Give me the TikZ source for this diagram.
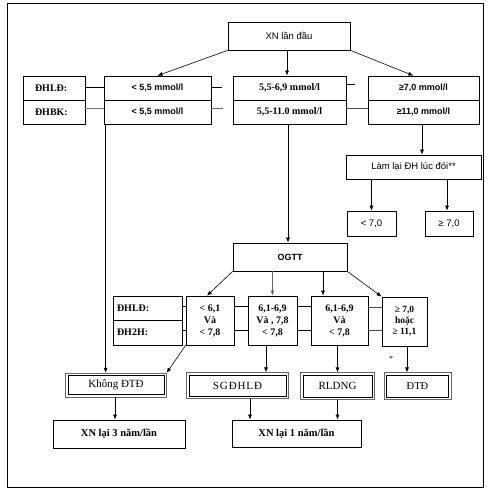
\documentclass[tikz,border=0pt]{standalone}
\usepackage{fontspec}
\setmainfont{Liberation Serif}
\setsansfont{Liberation Sans}
\usetikzlibrary{arrows.meta,calc}
\begin{document}
\begin{tikzpicture}[x=1pt,y=-1pt,
  bx/.style={draw,line width=0.7pt,inner sep=0pt,align=center},
  dbl/.style={draw,line width=0.9pt,inner sep=0pt,align=center,outer sep=2.6pt},
  outerline/.style={line width=0.7pt,black!60},
  arr/.style={-{Latex[length=5pt,width=4pt]},line width=0.6pt},
  ln/.style={line width=0.6pt},
  sansr/.style={font=\sffamily\fontsize{9.5}{11}\selectfont},
  sansb/.style={font=\sffamily\bfseries\fontsize{9}{11}\selectfont},
  serb/.style={font=\bfseries\fontsize{10}{12}\selectfont},
  serr/.style={font=\fontsize{11}{13}\selectfont},
  lab/.style={bx,serb,align=left,inner xsep=#1pt},
]
\useasboundingbox (0,0) rectangle (492,494);
\draw[line width=0.9pt] (7,3) rectangle (483,487);

% top
\node[bx,sansr,minimum width=122pt,minimum height=28pt] (xn) at (289,36) {XN lần đầu};

% row 1
\node[lab=12,text width=38pt,minimum height=24pt] (lA) at (54,88) {ĐHLĐ:};
\node[lab=12,text width=38pt,minimum height=24pt] (lB) at (54,112) {ĐHBK:};
\node[bx,sansb,minimum width=107pt,minimum height=24pt] (a1) at (157.5,88) {< 5,5 mmol/l};
\node[bx,sansb,minimum width=107pt,minimum height=24pt] (a2) at (157.5,112) {< 5,5 mmol/l};
\node[bx,serb,minimum width=113pt,minimum height=24pt] (b1) at (289.5,88) {5,5-6,9 mmol/l};
\node[bx,serb,minimum width=113pt,minimum height=24pt] (b2) at (289.5,112) {5,5-11.0 mmol/l};
\node[bx,sansb,minimum width=111pt,minimum height=24pt] (c1) at (423.5,88) {≥7,0 mmol/l};
\node[bx,sansb,minimum width=111pt,minimum height=24pt] (c2) at (423.5,112) {≥11,0 mmol/l};

\draw[ln] ([yshift=1pt]lA.east) -- ([yshift=1pt]lA.east -| a1.west);
\draw[ln,black!55] ([yshift=4pt]lB.east) -- ([yshift=4pt]lB.east -| a2.west);
\draw[ln] ([yshift=1pt]a1.east) -- ++(11,0) coordinate (sa1);
\draw[ln,black!60] ([yshift=4pt]a2.east) -- ++(12,0) coordinate (sa2);
\draw[ln] ([yshift=4pt]b1.east) -- ++(9,0) coordinate (sb1);
\draw[ln,black!70] ([yshift=4pt]b2.east) -- ([yshift=4pt]b2.east -| c2.west);

\draw[arr] (xn.south west) -- (a1.north);
\draw[arr] ([xshift=-2pt]xn.south) -- ([xshift=-2pt]xn.south |- b1.north);
\draw[arr] (xn.south east) -- ([xshift=-10pt]c1.north);

% right branch
\node[bx,sansr,minimum width=135pt,minimum height=24pt] (lam) at (413.5,167) {Làm lại ĐH lúc đói**};
\node[bx,sansr,minimum width=49pt,minimum height=25pt] (lt) at (371.5,223.5) {< 7,0};
\node[bx,sansr,minimum width=48pt,minimum height=25pt] (ge) at (449,223.5) {≥ 7,0};
\draw[arr] ([xshift=-1.5pt]c2.south) -- ([xshift=-1.5pt]c2.south |- lam.north);
\draw[arr] (lt.north |- lam.south) -- (lt.north);
\draw[arr] ([xshift=-2pt]ge.north |- lam.south) -- ([xshift=-2pt]ge.north);

% OGTT
\node[bx,sansb,minimum width=114pt,minimum height=28pt] (ogtt) at (290,257) {OGTT};
\draw[arr] ([xshift=-1.5pt]b2.south) -- ([xshift=-1.5pt]b2.south |- ogtt.north);

% row 2
\node[lab=4,text width=61pt,minimum height=24.5pt] (L2a) at (147.5,308.25) {ĐHLĐ:};
\node[lab=4,text width=61pt,minimum height=24.5pt] (L2b) at (147.5,332.75) {ĐH2H:};
\node[bx,serb,minimum width=48pt,minimum height=49pt] (d) at (210,320.5) {< 6,1\\Và\\< 7,8};
\node[bx,serb,minimum width=49pt,minimum height=49pt] (e) at (272.5,320.5) {6,1-6,9\\Và , 7,8\\< 7,8};
\node[bx,serb,minimum width=57pt,minimum height=49pt] (f) at (339.5,320.5) {6,1-6,9\\Và\\< 7,8};
\node[bx,font=\bfseries\fontsize{9.5}{11}\selectfont,minimum width=45pt,minimum height=49pt] (g) at (404.5,321.5) {≥ 7,0\\hoặc\\≥ 11,1};

\draw[ln] ([yshift=2pt]L2a.east) -- ([yshift=2pt]L2a.east -| d.west);
\draw[ln] ([yshift=2.75pt]L2b.east) -- ([yshift=2.75pt]L2b.east -| d.west);
\draw[ln] ([yshift=14.5pt]d.east) -- ([yshift=14.5pt]d.east -| e.west);
\draw[ln] ([yshift=-9.5pt]d.east) -- ([yshift=-9.5pt]d.east -| e.west);
\draw[ln] ([yshift=14.5pt]e.east) -- ([yshift=14.5pt]e.east -| f.west);
\draw[ln] ([yshift=-9.5pt]e.east) -- ([yshift=-9.5pt]e.east -| f.west);
\draw[ln,black!70] ([yshift=13pt]f.east) -- ([yshift=13pt]f.east -| g.west);
\draw[ln,black!70] ([yshift=-10pt]f.east) -- ([yshift=-10pt]f.east -| g.west);

\draw[arr] (ogtt.south west) -- ([xshift=-3pt]d.north);
\draw[arr,black!60] (e.north |- ogtt.south) -- (e.north);
\draw[arr] ([xshift=-16.5pt]f.north |- ogtt.south) -- ([xshift=-16.5pt]f.north);
\draw[arr] (ogtt.south east) -- (g.north west);

% row 3 (double-framed boxes)
\node[dbl,serr,minimum width=96pt,minimum height=19pt] (k) at (116,385) {Không ĐTĐ};
\node[dbl,serr,minimum width=97pt,minimum height=21pt] (s) at (237.5,385.5) {\addfontfeature{LetterSpace=8}SGĐHLĐ};
\node[dbl,serr,minimum width=69pt,minimum height=22pt] (r) at (337.5,386) {RLDNG};
\node[dbl,font=\fontsize{10.5}{12}\selectfont,minimum width=62pt,minimum height=22pt] (t) at (417.5,386) {ĐTĐ};
\foreach \n in {k,s,r,t}
  \draw[outerline] (\n.north west) rectangle (\n.south east);
\node[font=\fontsize{8}{9}\selectfont] (star) at (391,359) {*};

\draw[arr] ([xshift=2pt]a2.south west) -- ([xshift=2pt]a2.south west |- k.north);
\draw[arr] (d.south west) -- (k.north east);
\draw[arr] ([xshift=-6.5pt]e.south) -- ([xshift=-6.5pt]e.south |- s.north);
\draw[arr] (r.north |- f.south) -- (r.north);
\draw[arr] ([xshift=2.5pt]g.south) -- ([xshift=2.5pt]g.south |- t.north);

% row 4
\node[bx,font=\bfseries\fontsize{10.5}{12}\selectfont,minimum width=132pt,minimum height=28pt] (x3) at (119,434) {XN lại 3 năm/lần};
\node[bx,font=\bfseries\fontsize{10.5}{12}\selectfont,minimum width=129pt,minimum height=27pt] (x1) at (296.5,433.5) {XN lại 1 năm/lần};
\draw[arr] ([xshift=-1pt]k.south) -- ([xshift=-1pt]k.south |- x3.north);
\draw[arr] ([xshift=12.5pt]s.south) -- ([xshift=12.5pt]s.south |- x1.north);
\draw[arr] (r.south) -- (r.south |- x1.north);
\end{tikzpicture}
\end{document}
